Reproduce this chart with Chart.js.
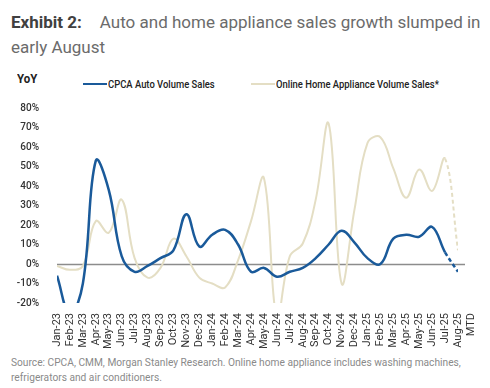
<!DOCTYPE html>
<html>
<head>
<meta charset="utf-8">
<script src="https://cdn.jsdelivr.net/npm/chart.js@4.4.1/dist/chart.umd.min.js"></script>
<style>
  html, body { margin: 0; padding: 0; background: #fff; }
  body { width: 490px; height: 388px; position: relative; overflow: hidden; font-family: Roboto, "Liberation Sans", sans-serif; }
  .title { position: absolute; left: 11px; top: 10px; width: 475px; font-size: 17px; line-height: 25px; color: #6b6b6b; }
  .title b { color: #404040; margin-right: 18px; }
  .yoy { position: absolute; left: 17px; top: 71px; font: bold 13px Roboto, sans-serif; color: #222; transform: scaleX(0.88); transform-origin: left; }
  .legend { position: absolute; top: 77px; font: 500 11.5px Roboto, sans-serif; color: #222; white-space: nowrap; }
  .legend i { display: inline-block; width: 24px; height: 0; border-top: 2px solid; vertical-align: middle; margin-right: 1px; position: relative; top: -1px; }
  .legend span { display: inline-block; transform: scaleX(0.82); transform-origin: left; }
  .src { position: absolute; left: 11px; top: 355px; width: 478px; font-size: 10.2px; line-height: 15px; color: #8a8a8a; }
  #wrap { position: absolute; left: 0; top: 92px; width: 490px; height: 260px; }
</style>
</head>
<body>
<div class="title"><b>Exhibit 2:</b>Auto and home appliance sales growth slumped in early August</div>
<div class="yoy">YoY</div>
<div class="legend" style="left:83px"><i style="border-color:#1a5a9a"></i><span>CPCA Auto Volume Sales</span></div>
<div class="legend" style="left:251px"><i style="border-color:#e4dec4"></i><span>Online Home Appliance Volume Sales*</span></div>
<div id="wrap"><canvas id="chart"></canvas></div>
<div class="src">Source: CPCA, CMM, Morgan Stanley Research. Online home appliance includes washing machines, refrigerators and air conditioners.</div>
<script>
const MONTHS = [
  'Jan-23', 'Feb-23', 'Mar-23', 'Apr-23', 'May-23', 'Jun-23', 'Jul-23', 'Aug-23',
  'Sep-23', 'Oct-23', 'Nov-23', 'Dec-23', 'Jan-24', 'Feb-24', 'Mar-24', 'Apr-24',
  'May-24', 'Jun-24', 'Jul-24', 'Aug-24', 'Sep-24', 'Oct-24', 'Nov-24', 'Dec-24',
  'Jan-25', 'Feb-25', 'Mar-25', 'Apr-25', 'May-25', 'Jun-25', 'Jul-25', ['Aug-25', 'MTD']
];

const AUTO_SALES = [
  -6, -26, -10, 53, 38, 4, -4, -1,
  3, 7, 25.5, 9, 15, 17.5, 10, -4,
  -2, -6.5, -4, -2, 3, 10, 17, 11,
  3, 0, 13, 15, 14, 19, 6, -4
];

const APPLIANCE_SALES = [
  -1, -3, -1, 22, 16, 33, 3, -7,
  -2, 13, 4, -7, -10, -12, 2, 22,
  44, -28, 4, 10.5, 33, 72, -10, 28,
  62, 65, 49, 34, 48.5, 37.5, 54, 7
];

const Y_TICKS_MIN = -20;
const Y_TICKS_MAX = 80;

const LAST = MONTHS.length - 1;

// dashed final segment (month-to-date)
const mtdDash = ctx => ctx.p1DataIndex === LAST ? [4, 3] : undefined;

// zero line, runs a little past the last point like the original
const zeroLine = {
  id: 'zeroLine',
  beforeDatasetsDraw(chart) {
    const {ctx, chartArea, scales} = chart;
    const y = Math.round(scales.y.getPixelForValue(0)) + 0.5;
    ctx.save();
    ctx.strokeStyle = '#8c8c8c';
    ctx.lineWidth = 1.5;
    ctx.beginPath();
    ctx.moveTo(chartArea.left, y);
    ctx.lineTo(chartArea.right + 7, y);
    ctx.stroke();
    ctx.restore();
  }
};

new Chart(document.getElementById('chart').getContext('2d'), {
  type: 'line',
  data: {
    labels: MONTHS,
    datasets: [
      {
        data: AUTO_SALES,
        borderColor: '#1a5a9a',
        borderWidth: 2.5,
        tension: 0.4,
        pointRadius: 0,
        clip: 0,
        order: 0,
        segment: {borderDash: mtdDash}
      },
      {
        data: APPLIANCE_SALES,
        borderColor: '#e4dec4',
        borderWidth: 2,
        tension: 0.4,
        pointRadius: 0,
        clip: 0,
        order: 1,
        segment: {borderDash: mtdDash}
      }
    ]
  },
  options: {
    responsive: true,
    maintainAspectRatio: false,
    animation: false,
    layout: {padding: {top: 11, bottom: 0, left: 0, right: 32}},
    plugins: {legend: {display: false}, tooltip: {enabled: false}},
    scales: {
      x: {
        offset: false,
        grid: {display: false},
        border: {display: false},
        ticks: {
          autoSkip: false,
          minRotation: 90,
          maxRotation: 90,
          padding: 2,
          color: '#333',
          font: {family: 'Roboto', size: 11}
        },
        afterFit: axis => { axis.height = 49; }
      },
      y: {
        min: Y_TICKS_MIN,
        max: Y_TICKS_MAX,
        grid: {display: false},
        border: {display: false},
        ticks: {
          stepSize: 10,
          padding: 10,
          color: '#333',
          font: {family: 'Roboto', size: 10, weight: '500'},
          callback: v => v + '%'
        },
        afterFit: axis => { axis.width = 57; }
      }
    }
  },
  plugins: [zeroLine]
});
</script>
</body>
</html>
